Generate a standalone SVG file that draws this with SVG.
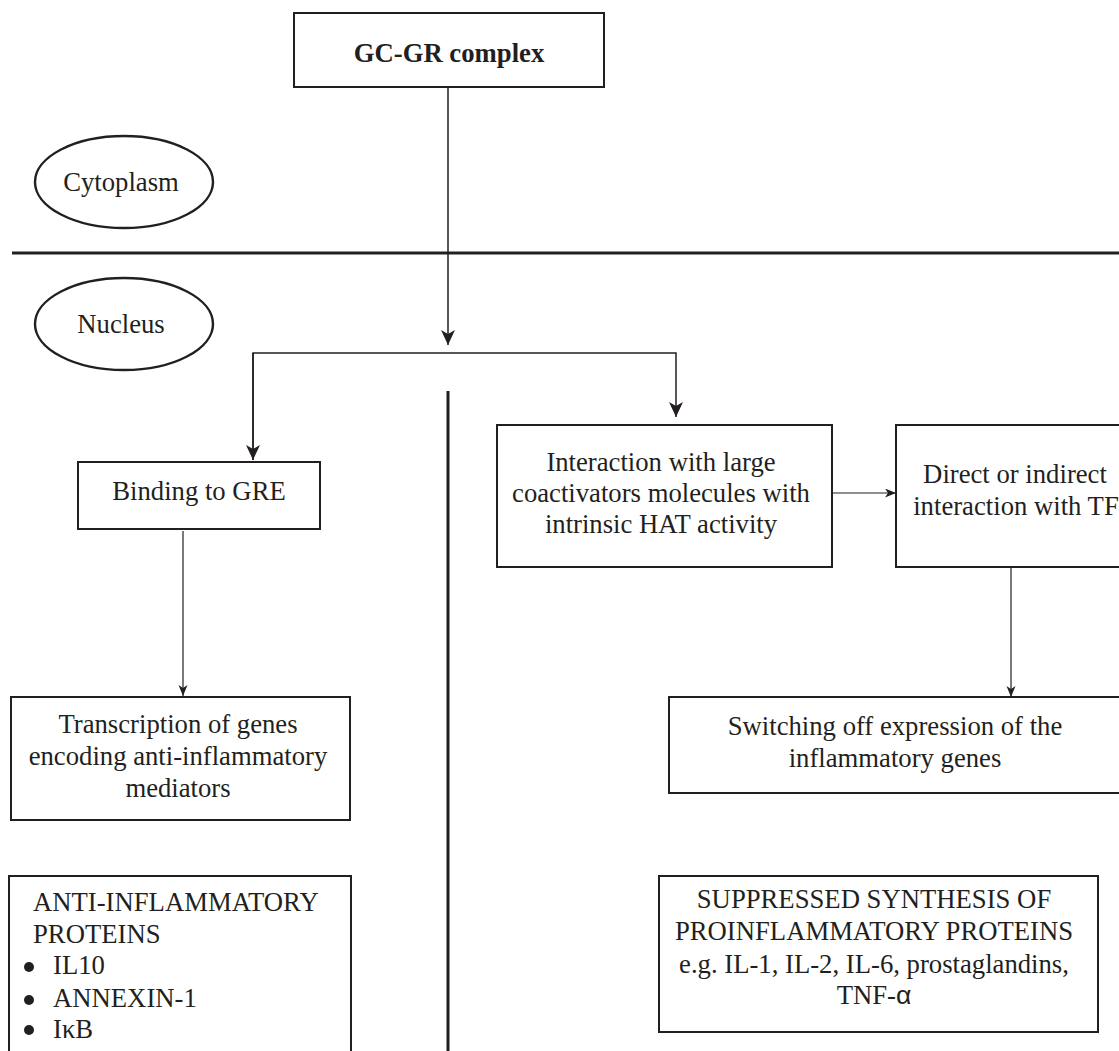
<svg xmlns="http://www.w3.org/2000/svg" width="1119" height="1051" viewBox="0 0 1119 1051">
<style>
.box{fill:#fff;stroke:#231f20;stroke-width:2}
.ell{fill:#fff;stroke:#231f20;stroke-width:2.4}
.t{font-family:"Liberation Serif","Times New Roman",serif;font-size:26.7px;fill:#231f20}
.c{text-anchor:middle}
.b{font-weight:bold}
.ln{fill:none;stroke:#231f20;stroke-width:1.5}
.thin{fill:none;stroke:#231f20;stroke-width:1.2}
.thick{fill:none;stroke:#231f20;stroke-width:3}
</style>
<defs>
<marker id="ab" markerUnits="userSpaceOnUse" markerWidth="16" markerHeight="16" refX="15" refY="7" orient="auto">
<path d="M0,0 L15,7 L0,14 L4,7 z" fill="#231f20"/>
</marker>
<marker id="as" markerUnits="userSpaceOnUse" markerWidth="12" markerHeight="10" refX="11" refY="4.5" orient="auto">
<path d="M0,0 L11,4.5 L0,9 L3,4.5 z" fill="#231f20"/>
</marker>
</defs>
<rect width="1119" height="1051" fill="#fff"/>

<g id="membrane">
<line class="thick" x1="12" y1="253" x2="1119" y2="253"/>
<line class="thick" x1="448" y1="391" x2="448" y2="1051"/>
</g>

<g id="connectors">
<line class="ln" x1="448" y1="87" x2="448" y2="345" marker-end="url(#ab)"/>
<path class="ln" d="M253,460 V353 H676 V417" marker-end="url(#ab)"/>
<path class="ln" d="M253,353 V460" marker-end="url(#ab)"/>
<line class="thin" x1="183" y1="531" x2="183" y2="696" marker-end="url(#as)"/>
<line class="thin" x1="832" y1="493" x2="896" y2="493" marker-end="url(#as)"/>
<line class="thin" x1="1011" y1="568" x2="1011" y2="697" marker-end="url(#as)"/>
</g>

<g id="gcgr">
<rect class="box" x="294" y="13" width="310" height="74"/>
<text class="t c b" x="449" y="62">GC-GR complex</text>
</g>

<g id="cytoplasm">
<ellipse class="ell" cx="124" cy="182" rx="89" ry="46"/>
<text class="t c" x="121" y="191">Cytoplasm</text>
</g>

<g id="nucleus">
<ellipse class="ell" cx="124" cy="324" rx="89" ry="46"/>
<text class="t c" x="121" y="333">Nucleus</text>
</g>

<g id="binding">
<rect class="box" x="78" y="462" width="242" height="67"/>
<text class="t c" x="199" y="500">Binding to GRE</text>
</g>

<g id="transcription">
<rect class="box" x="11" y="697" width="339" height="123"/>
<text class="t c" x="178" y="733">Transcription of genes</text>
<text class="t c" x="178" y="765">encoding anti-inflammatory</text>
<text class="t c" x="178" y="797">mediators</text>
</g>

<g id="antiinflammatory">
<rect class="box" x="9" y="876" width="342" height="190"/>
<text class="t" x="33" y="911">ANTI-INFLAMMATORY</text>
<text class="t" x="33" y="943">PROTEINS</text>
<circle cx="29" cy="967" r="5" fill="#231f20"/>
<text class="t" x="53" y="974">IL10</text>
<circle cx="29" cy="1000" r="5" fill="#231f20"/>
<text class="t" x="53" y="1007">ANNEXIN-1</text>
<circle cx="29" cy="1030" r="5" fill="#231f20"/>
<text class="t" x="53" y="1038">IκB</text>
</g>

<g id="interaction">
<rect class="box" x="497" y="425" width="335" height="142"/>
<text class="t c" x="661" y="471">Interaction with large</text>
<text class="t c" x="661" y="502">coactivators molecules with</text>
<text class="t c" x="661" y="533">intrinsic HAT activity</text>
</g>

<g id="direct">
<rect class="box" x="896" y="425" width="240" height="142"/>
<text class="t c" x="1015" y="483">Direct or indirect</text>
<text class="t c" x="1016" y="515">interaction with TF</text>
</g>

<g id="switching">
<rect class="box" x="669" y="697" width="470" height="96"/>
<text class="t c" x="895" y="735">Switching off expression of the</text>
<text class="t c" x="895" y="767">inflammatory genes</text>
</g>

<g id="suppressed">
<rect class="box" x="659" y="876" width="439" height="156"/>
<text class="t c" x="874" y="908">SUPPRESSED SYNTHESIS OF</text>
<text class="t c" x="874" y="940">PROINFLAMMATORY PROTEINS</text>
<text class="t c" x="874" y="973">e.g. IL-1, IL-2, IL-6, prostaglandins,</text>
<text class="t c" x="874" y="1004">TNF-<tspan font-family="'Liberation Sans',Arial,sans-serif">α</tspan></text>
</g>
</svg>
